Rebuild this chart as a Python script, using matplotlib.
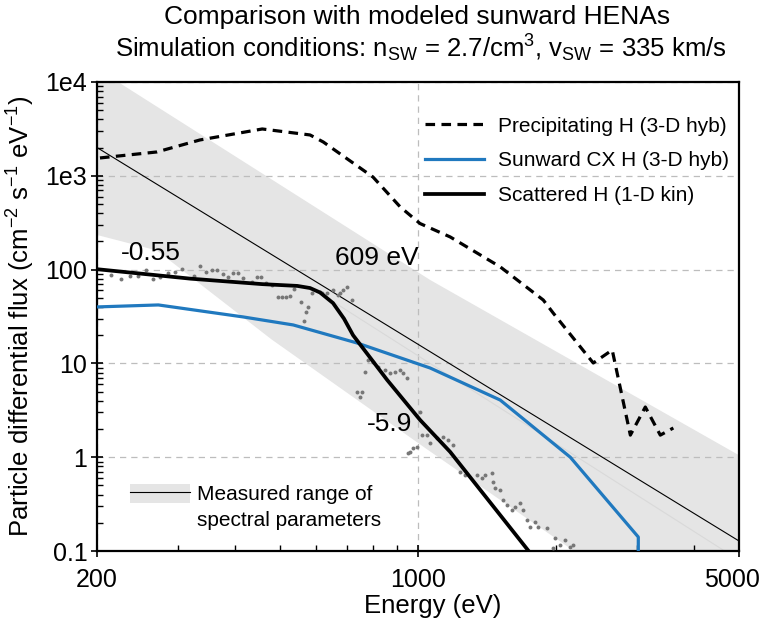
import numpy as np
import matplotlib
matplotlib.use("Agg")
import matplotlib.pyplot as plt
import matplotlib.transforms as mtransforms
from matplotlib.patches import Patch
from matplotlib.lines import Line2D

plt.rcParams['font.family'] = ['Liberation Sans', 'DejaVu Sans']
plt.rcParams['mathtext.fontset'] = 'custom'
plt.rcParams['mathtext.rm'] = 'Liberation Sans'
plt.rcParams['mathtext.it'] = 'Liberation Sans:italic'

# measured range (gray band) edges
band_hi_E = [200, 224, 1063, 5000]
band_hi_F = [13800, 9760, 77.5, 1.05]
band_lo_E = [200, 270, 480, 1050, 2220, 5000]
band_lo_F = [234, 160, 18, 1.2, 0.095, 0.006]
# representative spectrum of the measured range
meas_E = [200, 5000]
meas_F = [2000, 0.128]
# faint inner line in the band
inner_E = [645, 5000]
inner_F = [47.4, 0.08]

# Precipitating H (3-D hyb)
precip_E = [203, 270, 335, 458, 582, 622, 798, 915, 1010, 1175, 1510, 1874,
            1970, 2408, 2648, 2900, 3126, 3370, 3598]
precip_F = [1549, 1795, 2409, 3155, 2724, 2292, 970, 465, 310, 223, 107, 47.4,
            34.4, 10.1, 13.9, 1.72, 3.43, 1.72, 2.05]

# Sunward CX H (3-D hyb)
cx_E = [200, 272, 416, 535, 737, 1063, 1510, 2146, 3018, 3018]
cx_F = [40, 42, 31.3, 25.7, 16.5, 8.93, 4.07, 1.0, 0.141, 0.05]

# Scattered H (1-D kin)
scat_E = [200, 320, 458, 546, 582, 612, 653, 690, 722, 857, 1011, 1175, 1756, 1900]
scat_F = [101, 80, 70, 67, 63.6, 57, 44, 30, 20, 6.65, 2.49, 1.14, 0.095, 0.06]

# observed spectrum (gray dots)
obs_E = [215, 226, 236, 246, 256, 265, 274, 286, 296, 306, 325, 335, 346, 356,
         365, 376, 386, 396, 406, 416, 435, 446, 455, 467, 481, 496, 506, 516,
         527, 537, 556, 576, 571, 565, 588, 612, 618, 634, 653, 670, 677, 687,
         701, 719, 779, 799, 819, 848, 870, 892, 915, 928, 947, 767, 737, 748,
         756, 1011, 1021, 1047, 1063, 1101, 1135, 1163, 952, 961, 976, 996,
         1193, 1236, 1267, 1346, 1380, 1401, 1451, 1458, 1473, 1510, 1533,
         1564, 1604, 1628, 1669, 1695, 1729, 1755, 1800, 1827, 1912, 1990,
         2040, 2092, 2145, 2178, 1970]
obs_F = [87.6, 79.4, 85.5, 85.5, 99, 79.4, 83.6, 92, 94, 101, 85.5, 109, 94, 99,
         99, 90, 83.6, 92, 92, 81.3, 73.8, 83.6, 83.6, 72, 68.5, 51.1, 51.1, 51.1,
         52.3, 62.1, 45.1, 39.9, 35.3, 28.3, 56.3, 57.7, 56.3, 56.3, 60.6, 53.6,
         56.3, 60.6, 65.3, 47.4, 10.9, 10.3, 9.16, 8.5, 7.9, 8.1, 8.5, 7.9, 7.0,
         8.1, 4.95, 4.38, 4.95, 3.03, 1.72, 1.72, 1.42, 1.60, 1.64, 1.53, 1.11,
         1.14, 1.25, 1.29, 1.35, 0.695, 0.646, 0.646, 0.600, 0.646, 0.679, 0.544,
         0.469, 0.447, 0.350, 0.309, 0.274, 0.294, 0.325, 0.274, 0.214, 0.180,
         0.204, 0.180, 0.176, 0.138, 0.116, 0.131, 0.110, 0.116, 0.108]

band_color = '#e5e5e5'
blue = '#2079bf'

fig = plt.figure(figsize=(7.65, 6.22), dpi=100)
ax = fig.add_axes([0.1268, 0.1141, 0.8392, 0.7541])

ax.fill(band_hi_E + band_lo_E[::-1], band_hi_F + band_lo_F[::-1],
        color=band_color, lw=0, zorder=0)
ax.plot(inner_E, inner_F, color='#d9d9d9', lw=0.8, zorder=1)
ax.plot(meas_E, meas_F, color='black', lw=0.8, zorder=2)

ax.scatter(obs_E, obs_F, s=8, color='#777777', lw=0, zorder=3)

ax.plot(precip_E, precip_F, color='black', lw=2.3, ls=(0, (3, 2)), zorder=4,
        label='Precipitating H (3-D hyb)')
ax.plot(cx_E, cx_F, color=blue, lw=2.3, zorder=4,
        label='Sunward CX H (3-D hyb)')
ax.plot(scat_E, scat_F, color='black', lw=2.7, zorder=5,
        label='Scattered H (1-D kin)')

ax.set_xscale('log')
ax.set_yscale('log')
ax.set_xlim(200, 5000)
ax.set_ylim(0.1, 1e4)
ax.set_xticks([200, 1000, 5000])
ax.set_xticklabels(['200', '1000', '5000'])
ax.set_yticks([0.1, 1, 10, 100, 1e3, 1e4])
ax.set_yticklabels(['0.1', '1', '10', '100', '1e3', '1e4'])
ax.tick_params(which='major', direction='inout', length=8, width=1.2, labelsize=18)
ax.tick_params(which='minor', direction='in', length=4, width=1.0)
ax.tick_params(axis='x', pad=8)
ax.tick_params(axis='y', pad=3)
for sp in ax.spines.values():
    sp.set_linewidth(1.6)
# nudge the last x label so it stays inside the figure
last = ax.get_xticklabels()[-1]
last.set_transform(last.get_transform() +
                   mtransforms.ScaledTranslation(-5 / 72, 0, fig.dpi_scale_trans))

ax.grid(True, which='major', color='#bdbdbd', ls=(0, (5, 4)), lw=0.9)
ax.set_axisbelow(True)

ax.set_xlabel('Energy (eV)', fontsize=18.5)
ax.xaxis.set_label_coords(0.523, -0.092)
ax.set_ylabel('Particle differential flux (cm$^{-2}$ s$^{-1}$ eV$^{-1}$)', fontsize=18.5)
ax.yaxis.set_label_coords(-0.093, 0.5)

fig.text(0.545, 0.972, 'Comparison with modeled sunward HENAs',
         ha='center', va='center', fontsize=19)
fig.text(0.55, 0.923,
         r'Simulation conditions: n$_{\mathrm{SW}}$ = 2.7/cm$^3$, v$_{\mathrm{SW}}$ = 335 km/s',
         ha='center', va='center', fontsize=18.5)

ax.text(262, 150, '-0.55', fontsize=19, ha='center', va='center')
ax.text(815, 133, '609 eV', fontsize=19, ha='center', va='center')
ax.text(865, 2.26, '-5.9', fontsize=19, ha='center', va='center')

leg1 = ax.legend(loc='upper right', frameon=False, fontsize=15,
                 handlelength=2.8, handletextpad=0.7, labelspacing=0.75,
                 bbox_to_anchor=(1.014, 0.966))
ax.add_artist(leg1)

band_handle = (Patch(facecolor=band_color, edgecolor='none'),
               Line2D([], [], color='black', lw=0.8))
ax.legend([band_handle], ['Measured range of'],
          loc='center left', frameon=False, fontsize=15, handlelength=2.9,
          handleheight=1.05, handletextpad=0.35, borderpad=0, borderaxespad=0,
          bbox_to_anchor=(0.051, 0.1215))
ax.text(0.156, 0.066, 'spectral parameters', transform=ax.transAxes,
        fontsize=15, ha='left', va='center')

fig.savefig('out.png', dpi=100)
